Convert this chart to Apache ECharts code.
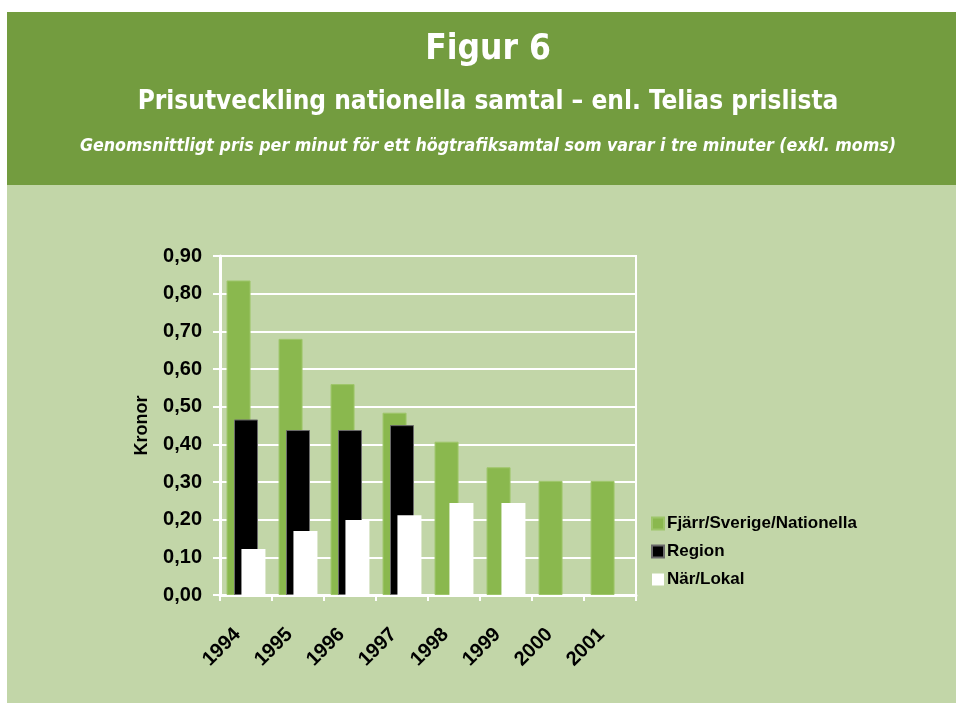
<!DOCTYPE html>
<html>
<head>
<meta charset="utf-8">
<script src="https://cdn.jsdelivr.net/npm/echarts@6/dist/echarts.min.js"></script>
<style>
html,body{margin:0;padding:0;background:#fff;}
#c{width:956px;height:704px;}
</style>
</head>
<body>
<div id="c"></div>
<script>
const years = ['1994','1995','1996','1997','1998','1999','2000','2001'];
const fjarr = [0.835, 0.680, 0.560, 0.484, 0.407, 0.339, 0.303, 0.303];
const region = [0.466, 0.438, 0.438, 0.451, null, null, null, null];
const lokal = [0.122, 0.170, 0.199, 0.212, 0.244, 0.244, null, null];
const seriesNames = ['Fjärr/Sverige/Nationella', 'Region', 'När/Lokal'];
const yTicks = { min: 0, max: 0.9, interval: 0.1 };
const titles = ['Figur 6', 'Prisutveckling nationella samtal – enl. Telias prislista',
  'Genomsnittligt pris per minut för ett högtrafiksamtal som varar i tre minuter (exkl. moms)'];

const chart = echarts.init(document.getElementById('c'), null, {renderer: 'canvas'});
const condensed = '"Liberation Sans Narrow", "DejaVu Sans Condensed", "Liberation Sans", Arial, sans-serif';
const sans = '"Liberation Sans", Arial, sans-serif';

chart.setOption({
  animation: false,
  backgroundColor: '#ffffff',
  graphic: [
    {type: 'rect', z: -10, shape: {x: 7, y: 12, width: 949, height: 691}, style: {fill: '#c2d6a8'}},
    {type: 'rect', z: -9, shape: {x: 7, y: 12, width: 949, height: 173}, style: {fill: '#739c3f'}},
    {type: 'text', x: 488, y: 50, style: {text: titles[0], fill: '#fff', align: 'center', verticalAlign: 'middle',
      font: 'bold 35px ' + condensed}},
    {type: 'text', x: 488, y: 102, style: {text: titles[1], fill: '#fff', align: 'center', verticalAlign: 'middle',
      font: 'bold 26px ' + condensed}},
    {type: 'text', x: 488, y: 146, style: {text: titles[2], fill: '#fff', align: 'center', verticalAlign: 'middle',
      font: 'italic bold 17.7px ' + condensed}}
  ],
  legend: {
    orient: 'vertical', left: 646, top: 510, itemWidth: 12, itemHeight: 12, itemGap: 11,
    icon: 'rect',
    textStyle: {fontFamily: sans, fontWeight: 'bold', fontSize: 17, color: '#000', padding: [0,0,0,-2]},
    data: seriesNames
  },
  grid: {left: 220, right: 320, top: 256, bottom: 109, show: true, borderColor: '#fff', borderWidth: 2},
  xAxis: {
    type: 'category', data: years,
    axisLine: {lineStyle: {color: '#fff', width: 3}},
    axisTick: {show: true, length: 6, lineStyle: {color: '#fff', width: 2}},
    axisLabel: {rotate: 45, margin: 28, padding: [0, 12, 0, 0], color: '#000', fontFamily: sans, fontWeight: 'bold', fontSize: 20}
  },
  yAxis: {
    type: 'value', min: yTicks.min, max: yTicks.max, interval: yTicks.interval,
    name: 'Kronor', nameLocation: 'middle', nameGap: 69,
    nameTextStyle: {color: '#000', fontFamily: sans, fontWeight: 'bold', fontSize: 18},
    axisLine: {show: true, lineStyle: {color: '#fff', width: 3}},
    axisTick: {show: true, length: 7, lineStyle: {color: '#fff', width: 2}},
    splitLine: {lineStyle: {color: '#fff', width: 2}},
    axisLabel: {margin: 18, color: '#000', fontFamily: sans, fontWeight: 'bold', fontSize: 20,
      formatter: v => v.toFixed(2).replace('.', ',')}
  },
  series: [
    {name: seriesNames[0], type: 'bar', data: fjarr, barWidth: 24, barGap: '-69%',
     itemStyle: {color: '#8ab84e', borderColor: '#9ec66a', borderWidth: 1}},
    {name: seriesNames[1], type: 'bar', data: region, barWidth: 24, barGap: '-69%',
     itemStyle: {color: '#000', borderColor: '#6a6a6a', borderWidth: 1}},
    {name: seriesNames[2], type: 'bar', data: lokal, barWidth: 24, barGap: '-69%',
     itemStyle: {color: '#fff'}}
  ]
});
</script>
</body>
</html>
